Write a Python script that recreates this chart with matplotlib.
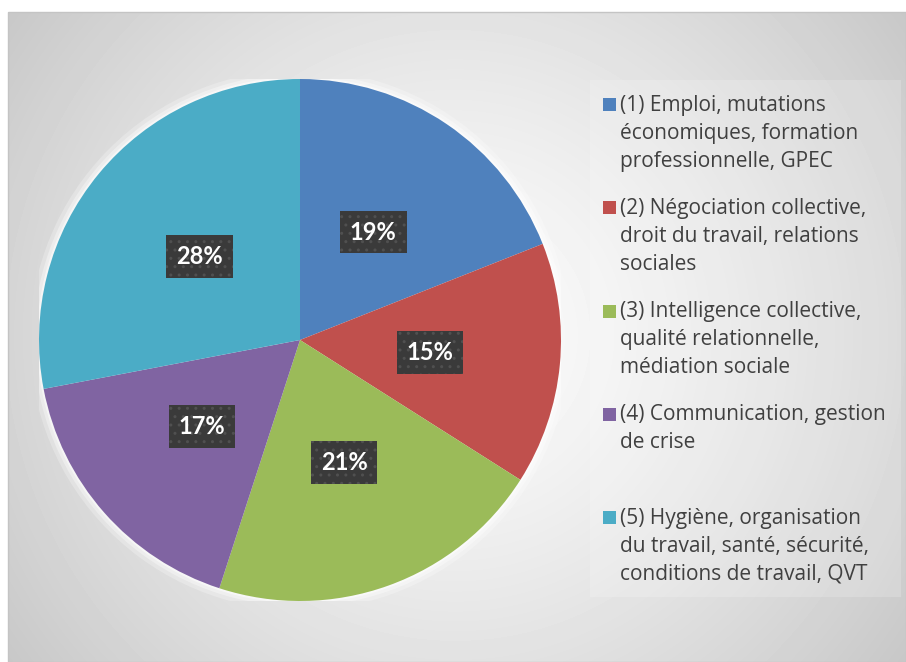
import matplotlib.pyplot as plt
import numpy as np
from matplotlib.patches import Rectangle, Circle

# data
categories = [
    "(1) Emploi, mutations\néconomiques, formation\nprofessionnelle, GPEC",
    "(2) Négociation collective,\ndroit du travail, relations\nsociales",
    "(3) Intelligence collective,\nqualité relationnelle,\nmédiation sociale",
    "(4) Communication, gestion\nde crise",
    "(5) Hygiène, organisation\ndu travail, santé, sécurité,\nconditions de travail, QVT",
]
shares = [19, 15, 21, 17, 28]
colors = ["#4F81BD", "#C0504D", "#9BBB59", "#8064A2", "#4BACC6"]

W, H = 906, 662
fig = plt.figure(figsize=(W / 100, H / 100), dpi=100)
fig.patch.set_facecolor("white")

# background axes in pixel coordinates
bg = fig.add_axes([0, 0, 1, 1])
bg.set_xlim(0, W)
bg.set_ylim(H, 0)
bg.axis("off")

# radial gradient for the chart area
x0, y0 = 8, 12
xx, yy = np.meshgrid(np.arange(x0, W), np.arange(y0, H))
r = np.hypot(xx - 455, yy - 335) / 560
img = 0.99 - 0.21 * r ** 1.3
bg.imshow(img, cmap="gray", vmin=0, vmax=1, extent=(x0, W, H, y0),
          interpolation="bilinear", zorder=0)
bg.add_patch(Rectangle((x0, y0), W - x0, H - y0, fill=False,
                       edgecolor="#c4c4c4", lw=1, zorder=1))

# legend background
bg.add_patch(Rectangle((590, 80), 311, 517, facecolor="white", alpha=0.18,
                       edgecolor="none", zorder=1))

# legend entries
font = "Open Sans"
for i, (lab, col) in enumerate(zip(categories, colors)):
    ytop = 105 + i * 103.3
    bg.add_patch(Rectangle((603, ytop - 7), 13, 13, facecolor=col,
                           edgecolor="none", zorder=2))
    for j, line in enumerate(lab.split("\n")):
        bg.text(620, ytop + j * 28, line, fontsize=15, family=font,
                color="#404040", va="center", ha="left", zorder=3)

# pie
cx, cy, rad = 300, 340, 261
ax = fig.add_axes([(cx - rad) / W, (H - cy - rad) / H, 2 * rad / W, 2 * rad / H])
ax.axis("off")
for rr, a in [(1.035, 0.25), (1.02, 0.35), (1.008, 0.5)]:
    ax.add_patch(Circle((0, 0), rr, facecolor="white", alpha=a,
                        edgecolor="none", zorder=0))

wedges, texts, autotexts = ax.pie(
    shares, colors=colors, startangle=90, counterclock=False,
    radius=1, autopct="%d%%", pctdistance=0.5,
    wedgeprops=dict(linewidth=0),
    textprops=dict(color="white", fontsize=17, fontweight="bold", family="Lato"),
)
ax.set_xlim(-1, 1)
ax.set_ylim(-1, 1)
for t in autotexts:
    t.set_zorder(5)
    t.set_bbox(dict(boxstyle="square,pad=0.42", facecolor="#3a3a3a",
                    edgecolor="#505050", hatch="..", linewidth=0))

fig.savefig("out.png", dpi=100)
